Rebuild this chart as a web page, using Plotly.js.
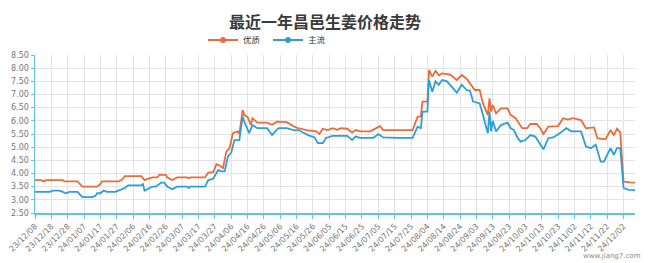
<!DOCTYPE html>
<html>
<head>
<meta charset="utf-8">
<script src="https://cdn.plot.ly/plotly-3.0.1.min.js"></script>
<style>
html,body{margin:0;padding:0;background:#fff;}
#chart{width:650px;height:263px;}
</style>
</head>
<body>
<div id="chart"></div>
<script>
const seriesNames = ['优质', '主流'];

const premiumDates = ['2023-12-08','2023-12-12','2023-12-13','2023-12-15','2023-12-25','2023-12-26','2024-01-03','2024-01-06','2024-01-15','2024-01-17','2024-01-18','2024-01-28','2024-01-30','2024-02-01','2024-02-11','2024-02-13','2024-02-15','2024-02-18','2024-02-21','2024-02-22','2024-02-26','2024-02-27','2024-03-01','2024-03-04','2024-03-10','2024-03-11','2024-03-12','2024-03-21','2024-03-23','2024-03-26','2024-03-28','2024-03-30','2024-04-01','2024-04-03','2024-04-05','2024-04-07','2024-04-10','2024-04-11','2024-04-13','2024-04-14','2024-04-16','2024-04-18','2024-04-19','2024-04-22','2024-04-28','2024-05-01','2024-05-04','2024-05-10','2024-05-14','2024-05-17','2024-05-22','2024-05-28','2024-05-30','2024-06-01','2024-06-04','2024-06-07','2024-06-10','2024-06-12','2024-06-16','2024-06-19','2024-06-21','2024-06-24','2024-06-30','2024-07-03','2024-07-06','2024-07-08','2024-07-26','2024-07-29','2024-07-31','2024-08-01','2024-08-04','2024-08-05','2024-08-07','2024-08-09','2024-08-11','2024-08-13','2024-08-18','2024-08-22','2024-08-25','2024-08-28','2024-08-30','2024-09-02','2024-09-05','2024-09-07','2024-09-10','2024-09-11','2024-09-12','2024-09-13','2024-09-15','2024-09-18','2024-09-22','2024-09-24','2024-09-27','2024-09-29','2024-10-01','2024-10-04','2024-10-06','2024-10-10','2024-10-12','2024-10-14','2024-10-17','2024-10-23','2024-10-26','2024-10-29','2024-11-01','2024-11-06','2024-11-09','2024-11-14','2024-11-16','2024-11-21','2024-11-24','2024-11-26','2024-11-28','2024-11-30','2024-12-02','2024-12-06','2024-12-09'];
const premiumValues = [3.75,3.75,3.70,3.75,3.75,3.70,3.70,3.50,3.50,3.60,3.70,3.70,3.75,3.90,3.90,3.75,3.80,3.85,3.85,3.95,3.95,3.85,3.75,3.85,3.85,3.82,3.85,3.85,4.03,4.05,4.35,4.30,4.20,4.83,4.96,5.53,5.60,5.50,6.41,6.22,6.15,5.84,6.10,5.93,5.93,5.85,5.97,5.95,5.80,5.72,5.65,5.60,5.50,5.70,5.65,5.72,5.66,5.72,5.70,5.55,5.65,5.60,5.60,5.70,5.80,5.65,5.65,6.16,6.16,6.73,6.73,7.93,7.68,7.90,7.73,7.80,7.76,7.55,7.74,7.60,7.42,7.17,7.17,6.66,6.22,6.85,6.35,6.60,6.28,6.47,6.47,6.22,6.10,5.90,5.72,5.72,5.88,5.88,5.72,5.50,5.78,5.80,6.10,6.05,6.10,6.03,5.72,5.75,5.34,5.30,5.65,5.45,5.70,5.55,3.69,3.66,3.65];

const mainDates = ['2023-12-08','2023-12-17','2023-12-19','2023-12-23','2023-12-25','2023-12-27','2023-12-29','2024-01-03','2024-01-06','2024-01-12','2024-01-14','2024-01-15','2024-01-17','2024-01-19','2024-01-21','2024-01-26','2024-01-28','2024-01-30','2024-02-01','2024-02-03','2024-02-11','2024-02-12','2024-02-13','2024-02-16','2024-02-18','2024-02-20','2024-02-23','2024-02-25','2024-02-27','2024-03-01','2024-03-04','2024-03-10','2024-03-11','2024-03-12','2024-03-21','2024-03-23','2024-03-26','2024-03-29','2024-03-31','2024-04-02','2024-04-04','2024-04-06','2024-04-08','2024-04-11','2024-04-13','2024-04-14','2024-04-17','2024-04-19','2024-04-22','2024-04-28','2024-05-01','2024-05-03','2024-05-05','2024-05-10','2024-05-14','2024-05-17','2024-05-23','2024-05-27','2024-05-29','2024-06-01','2024-06-03','2024-06-07','2024-06-16','2024-06-19','2024-06-21','2024-06-24','2024-07-02','2024-07-05','2024-07-08','2024-07-17','2024-07-26','2024-07-29','2024-07-31','2024-08-01','2024-08-04','2024-08-05','2024-08-07','2024-08-09','2024-08-11','2024-08-13','2024-08-16','2024-08-22','2024-08-25','2024-08-28','2024-08-30','2024-09-01','2024-09-05','2024-09-07','2024-09-10','2024-09-11','2024-09-12','2024-09-13','2024-09-15','2024-09-18','2024-09-22','2024-09-24','2024-09-26','2024-09-28','2024-09-30','2024-10-03','2024-10-06','2024-10-09','2024-10-11','2024-10-14','2024-10-17','2024-10-20','2024-10-24','2024-10-28','2024-10-31','2024-11-06','2024-11-09','2024-11-12','2024-11-15','2024-11-18','2024-11-20','2024-11-24','2024-11-26','2024-11-28','2024-11-30','2024-12-02','2024-12-05','2024-12-09'];
const mainValues = [3.30,3.30,3.35,3.35,3.30,3.25,3.30,3.30,3.10,3.10,3.15,3.25,3.25,3.35,3.30,3.30,3.35,3.40,3.45,3.55,3.55,3.60,3.35,3.45,3.50,3.50,3.65,3.65,3.50,3.40,3.50,3.50,3.45,3.50,3.50,3.75,3.80,4.13,4.08,4.08,4.64,4.79,5.27,5.27,6.16,5.97,5.53,5.84,5.72,5.72,5.46,5.60,5.72,5.72,5.65,5.65,5.46,5.37,5.15,5.15,5.35,5.43,5.43,5.27,5.40,5.35,5.35,5.50,5.37,5.35,5.35,5.78,5.72,6.35,6.35,7.55,7.10,7.50,7.37,7.55,7.50,7.07,7.37,7.17,7.15,6.73,6.66,6.22,5.53,6.35,5.60,6.00,5.60,5.84,5.93,5.72,5.65,5.37,5.21,5.27,5.46,5.40,5.21,4.92,5.34,5.37,5.53,5.72,5.60,5.60,5.02,4.96,5.09,4.45,4.45,4.96,4.71,4.96,4.96,3.45,3.38,3.37];

const tickDates = ['2023-12-08','2023-12-18','2023-12-28','2024-01-07','2024-01-17','2024-01-27','2024-02-06','2024-02-16','2024-02-26','2024-03-07','2024-03-17','2024-03-27','2024-04-06','2024-04-16','2024-04-26','2024-05-06','2024-05-16','2024-05-26','2024-06-05','2024-06-15','2024-06-25','2024-07-05','2024-07-15','2024-07-25','2024-08-04','2024-08-14','2024-08-24','2024-09-03','2024-09-13','2024-09-23','2024-10-03','2024-10-13','2024-10-23','2024-11-02','2024-11-12','2024-11-22','2024-12-02'];
const tickLabels = ['23/12/08','23/12/18','23/12/28','24/01/07','24/01/17','24/01/27','24/02/06','24/02/16','24/02/26','24/03/07','24/03/17','24/03/27','24/04/06','24/04/16','24/04/26','24/05/06','24/05/16','24/05/26','24/06/05','24/06/15','24/06/25','24/07/05','24/07/15','24/07/25','24/08/04','24/08/14','24/08/24','24/09/03','24/09/13','24/09/23','24/10/03','24/10/13','24/10/23','24/11/02','24/11/12','24/11/22','24/12/02'];

const colors = ['#ee6a37', '#2d9fd6'];
const axisBlue = '#5ec4e6';

const traces = [
  {x: premiumDates, y: premiumValues, name: seriesNames[0], type: 'scatter', mode: 'lines',
   line: {color: colors[0], width: 1.8}, showlegend: false},
  {x: mainDates, y: mainValues, name: seriesNames[1], type: 'scatter', mode: 'lines',
   line: {color: colors[1], width: 1.8}, showlegend: false},
  {x: [null], y: [null], name: seriesNames[0], type: 'scatter', mode: 'lines+markers',
   line: {color: colors[0], width: 2}, marker: {color: colors[0], size: 6, symbol: 'circle'}},
  {x: [null], y: [null], name: seriesNames[1], type: 'scatter', mode: 'lines+markers',
   line: {color: colors[1], width: 2}, marker: {color: colors[1], size: 6, symbol: 'circle'}}
];

const layout = {
  width: 650, height: 263,
  margin: {l: 35, r: 15, t: 55, b: 50},
  paper_bgcolor: '#fff', plot_bgcolor: '#fff',
  showlegend: true,
  title: {text: '最近一年昌邑生姜价格走势', x: 0.5, xanchor: 'center', y: 0.915, yanchor: 'middle',
          font: {family: 'Noto Sans CJK SC', size: 16, color: '#3a3a3a', weight: 'bold'}},
  legend: {orientation: 'h', x: 0.28, xanchor: 'left', y: 1.095, yanchor: 'middle',
           font: {family: 'Noto Sans CJK SC', size: 8.5, color: '#333'}, itemwidth: 30,
           entrywidth: 20, entrywidthmode: 'pixels',
           tracegroupgap: 0, bgcolor: 'rgba(0,0,0,0)'},
  xaxis: {
    type: 'date', range: ['2023-12-08', '2024-12-09'],
    tickmode: 'array', tickvals: tickDates, ticktext: tickLabels, tickangle: -45,
    tickfont: {family: 'DejaVu Sans', size: 8, color: '#777'},
    showgrid: true, gridcolor: '#e3e3e3', gridwidth: 1,
    showline: true, linecolor: axisBlue, linewidth: 1.5,
    ticks: 'outside', ticklen: 4, tickcolor: axisBlue, zeroline: false, fixedrange: true
  },
  yaxis: {
    range: [2.5, 8.5], tickmode: 'linear', tick0: 2.5, dtick: 0.5, tickformat: '.2f',
    tickfont: {family: 'DejaVu Sans', size: 8, color: '#777'},
    showgrid: true, gridcolor: '#e3e3e3', gridwidth: 1,
    showline: true, linecolor: axisBlue, linewidth: 1.5,
    ticks: 'outside', ticklen: 3, tickcolor: axisBlue, zeroline: false, fixedrange: true
  },
  annotations: [
    {text: 'www.jiang7.com', xref: 'paper', yref: 'paper', x: 1.013, y: -0.27, xanchor: 'right', yanchor: 'middle',
     showarrow: false, font: {family: 'DejaVu Sans', size: 7, color: '#888'}}
  ]
};

Plotly.newPlot('chart', traces, layout, {displayModeBar: false, staticPlot: true});
</script>
</body>
</html>
